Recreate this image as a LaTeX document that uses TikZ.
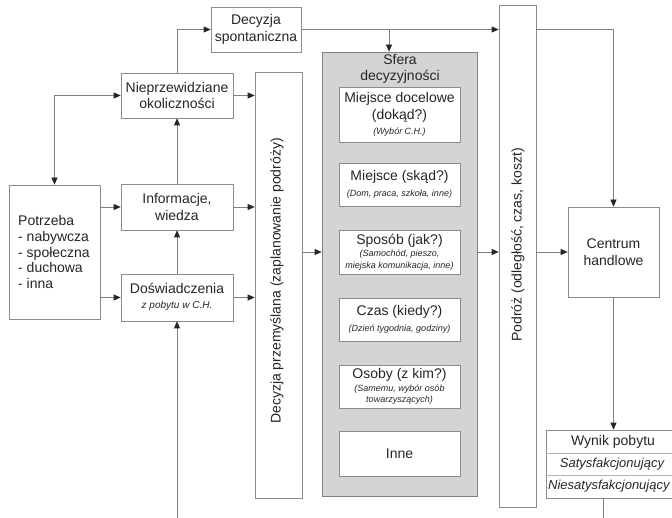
\documentclass[tikz,border=0pt]{standalone}
\usepackage{fontspec}
\setmainfont{Liberation Sans}
\usetikzlibrary{arrows.meta}
\begin{document}
\begin{tikzpicture}[x=1pt,y=-1pt,
  every node/.style={font=\fontsize{14}{16.5}\selectfont, text=black!85},
  box/.style={draw=black!45, line width=0.7pt, fill=white, inner sep=0pt, align=center},
  small/.style={font=\fontsize{9}{10.5}\selectfont\itshape},
  conn/.style={draw=black!50, line width=0.7pt},
  arr/.style={conn, -{Triangle[length=7pt,width=6pt,color=black!85]}},
  darr/.style={conn, {Triangle[length=7pt,width=6pt,color=black!85]}-{Triangle[length=7pt,width=6pt,color=black!85]}}]
\useasboundingbox (0,0) rectangle (672,518);
\clip (0,0) rectangle (672,518);
% left column
\node[box, minimum width=90pt, minimum height=45pt] (spont) at (256,29.5) {Decyzja\\spontaniczna};
\node[box, minimum width=112pt, minimum height=45pt] (niep) at (177,95.5) {Nieprzewidziane\\okoliczności};
\node[box, minimum width=112pt, minimum height=46pt] (info) at (177,207) {Informacje,\\wiedza};
\node[box, minimum width=112pt, minimum height=47pt] (dosw) at (177,297.5) {};
\node[align=center, inner sep=0pt] (doswt) at (177,297) {Doświadczenia\\[-1pt]{\fontsize{10}{12}\selectfont\itshape z pobytu w C.H.}};
\node[box, minimum width=91pt, minimum height=134pt] (potrz) at (54.5,252) {};
\node[align=left, anchor=west, inner sep=0pt, font=\fontsize{14}{15.6}\selectfont] (potrzt) at (18,252) {Potrzeba\\- nabywcza\\- społeczna\\- duchowa\\- inna};
\node[box, minimum width=47pt, minimum height=426pt] (przem) at (278.5,285) {};
\node[rotate=90, inner sep=0pt] (przemt) at (277,281) {Decyzja przemyślana (zaplanowanie podróży)};
% sfera
\node[box, fill=black!17, draw=black!50, minimum width=155pt, minimum height=444pt] (sfera) at (399.5,274) {};
\node[align=center, inner sep=0pt] (sferat) at (400,69) {Sfera\\decyzyjności};
\node[box, minimum width=121pt, minimum height=55pt] (m1) at (399.5,114.5) {Miejsce docelowe\\(dokąd?)\\[-1pt]{\fontsize{9}{10.5}\selectfont\itshape (Wybór C.H.)}};
\node[box, minimum width=121pt, minimum height=43pt] (m2) at (399.5,184.5) {Miejsce (skąd?)\\[-1pt]{\fontsize{9}{10.5}\selectfont\itshape (Dom, praca, szkoła, inne)}};
\node[box, minimum width=121pt, minimum height=44pt] (m3) at (399.5,252) {Sposób (jak?)\\[-4pt]{\fontsize{9}{10.5}\selectfont\itshape (Samochód, pieszo,}\\[-5pt]{\fontsize{9}{10.5}\selectfont\itshape miejska komunikacja, inne)}};
\node[box, minimum width=121pt, minimum height=43pt] (m4) at (399.5,319.5) {Czas (kiedy?)\\[0pt]{\fontsize{9}{10.5}\selectfont\itshape (Dzień tygodnia, godziny)}};
\node[box, minimum width=121pt, minimum height=43pt] (m5) at (399.5,386.5) {Osoby (z kim?)\\[-4pt]{\fontsize{9}{10.5}\selectfont\itshape (Samemu, wybór osób}\\[-5pt]{\fontsize{9}{10.5}\selectfont\itshape towarzyszących)}};
\node[box, minimum width=121pt, minimum height=45pt] (m6) at (399.5,453.5) {Inne};
% right
\node[box, minimum width=37pt, minimum height=502pt] (podroz) at (517.5,256) {};
\node[rotate=90, inner sep=0pt] (podrozt) at (518,245) {Podróż (odległość, czas, koszt)};
\node[box, minimum width=91pt, minimum height=90pt] (centrum) at (613.5,252) {Centrum\\handlowe};
\node[box, minimum width=144pt, minimum height=68pt] (wynik) at (618,464) {};
\draw[draw=black!30, line width=0.7pt] (546,453) -- (690,453) (546,475) -- (690,475);
\node[inner sep=0pt] (w1) at (613,442) {Wynik pobytu};
\node[inner sep=0pt, font=\fontsize{13}{15}\selectfont\itshape] (w2) at (612,464) {Satysfakcjonujący};
\node[inner sep=0pt, anchor=west, font=\fontsize{13}{15}\selectfont\itshape] (w3) at (548,486) {Niesatysfakcjonujący};
% connectors
\draw[arr] (niep.north) |- (spont.west);
\draw[arr] (spont.east) -- (podroz.west |- spont.east);
\coordinate (br) at (389,29.5);
\draw[arr] (br) -- (br |- sfera.north);
\draw[darr] (niep.west) -| (potrz.north);
\draw[arr] (potrz.east |- info.west) -- (info.west);
\draw[arr] (potrz.east |- dosw.west) -- (dosw.west);
\draw[arr] (info.north) -- (niep.south);
\draw[arr] (dosw.north) -- (info.south);
\coordinate (bot) at (177,520);
\draw[arr] (bot) -- (dosw.south);
\draw[arr] (niep.east) -- (przem.west |- niep.east);
\draw[arr] (info.east) -- (przem.west |- info.east);
\draw[arr] (dosw.east) -- (przem.west |- dosw.east);
\draw[arr] (przem.east |- m3) -- (sfera.west |- m3);
\draw[arr] (sfera.east |- m3) -- (podroz.west |- m3);
\draw[arr] (podroz.east |- centrum.west) -- (centrum.west);
\draw[arr] (podroz.east |- spont.east) -| (centrum.north);
\draw[arr] (centrum.south) -- (centrum.south |- wynik.north);
\coordinate (wbot) at (603,520);
\draw[conn] (wynik.south -| wbot) -- (wbot);
\end{tikzpicture}
\end{document}
